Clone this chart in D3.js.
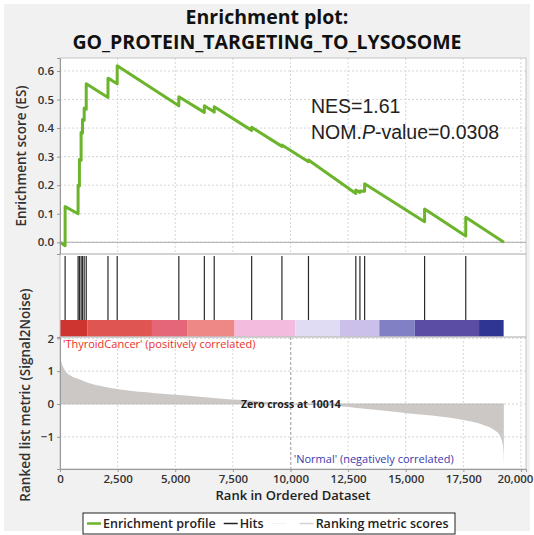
<!DOCTYPE html>
<html>
<head>
<meta charset="UTF-8">
<title>Enrichment plot</title>
<style>
    body { margin: 0; background: #fff; }
    svg { display: block; }
</style>
</head>
<body>
<svg></svg>
<script src="https://d3js.org/d3.v7.min.js"></script>
<script>
    let width = 534, height = 535

    // hit positions (rank in ordered list)
    let hitRanks = [222, 785, 842, 915, 975, 1049, 1138, 2082, 2482, 5156, 6263, 6692,
        8317, 9630, 10781, 12836, 13014, 13218, 15820, 17606]

    // running enrichment score (rank, ES)
    let esRanks = [0, 222, 222, 785, 785, 842, 842, 915, 915, 975, 975, 1049, 1049, 1138, 1138,
        2082, 2082, 2482, 2482, 5156, 5156, 6263, 6263, 6692, 6692, 8317, 8317, 9630, 9630,
        10781, 10781, 12836, 12836, 13014, 13014, 13218, 13218, 15820, 15820, 17606, 17606, 19260]
    let esScores = [0, -0.012, 0.125, 0.100, 0.200, 0.197, 0.290, 0.287, 0.385, 0.382, 0.430, 0.427, 0.470, 0.466, 0.555,
        0.507, 0.575, 0.555, 0.618, 0.478, 0.510, 0.455, 0.478, 0.456, 0.475, 0.392, 0.403, 0.336, 0.341,
        0.282, 0.288, 0.171, 0.183, 0.175, 0.180, 0.179, 0.205, 0.072, 0.117, 0.022, 0.088, 0.0]

    // ranked list metric (Signal2Noise)
    let metricRanks = [0, 30, 90, 234, 451, 885, 1245, 1969, 2693, 4137, 5568, 7030, 7897, 9000, 10014,
        11000, 12160, 12884, 14000, 15052, 16496, 17507, 18374, 18808, 19098, 19215, 19245, 19258]
    let metricValues = [1.45, 1.35, 1.21, 1.0, 0.87, 0.74, 0.64, 0.52, 0.43, 0.33, 0.25, 0.16, 0.12, 0.06, 0,
        -0.04, -0.07, -0.12, -0.2, -0.28, -0.38, -0.49, -0.64, -0.78, -0.98, -1.25, -1.5, -1.85]

    // colour bar bins
    let binStarts = [0, 1183, 3990, 5540, 7577, 10208, 12142, 13855, 15391, 18183]
    let binEnds = [1183, 3990, 5540, 7577, 10208, 12142, 13855, 15391, 18183, 19250]
    let binColors = ["#cf3530", "#df5552", "#e56678", "#ee8887", "#f3bcde", "#dfdcf3",
        "#cbc0ea", "#8180c5", "#5b4ca4", "#2f3592"]

    let xTicks = [0, 2500, 5000, 7500, 10000, 12500, 15000, 17500, 20000]
    let esTicks = [0, 0.1, 0.2, 0.3, 0.4, 0.5, 0.6]
    let metricTicks = [2, 1, 0, -1]

    let zeroCross = 10014
    let titleLines = ["Enrichment plot:", "GO_PROTEIN_TARGETING_TO_LYSOSOME"]

    let left = 60, right = 526
    let topY0 = 58, topY1 = 254, hitY1 = 320, barY1 = 337, botY1 = 469

    let svg = d3.select("svg")
        .attr("width", width)
        .attr("height", height)
        .style("font-family", "'Open Sans', sans-serif")

    svg.append("rect")
        .attr("x", 4).attr("y", 4)
        .attr("width", width - 8).attr("height", height - 8)
        .attr("fill", "#f1f1f1")

    let x = d3.scaleLinear().domain([0, 20220]).range([left, right])
    let yES = d3.scaleLinear().domain([-0.041, 0.6455]).range([topY1, topY0])
    let yM = d3.scaleLinear().domain([-1.98, 2.04]).range([botY1, barY1])

    // panel backgrounds
    svg.append("rect").attr("x", left).attr("y", topY0).attr("width", right - left)
        .attr("height", botY1 - topY0).attr("fill", "#fff")

    // title
    svg.append("g").selectAll("text")
        .data(titleLines)
        .enter().append("text")
        .attr("x", width / 2)
        .attr("y", (d, i) => 24 + i * 25)
        .attr("text-anchor", "middle")
        .attr("font-size", 19.5)
        .attr("font-weight", "bold")
        .attr("fill", "#111")
        .text(d => d)

    // grid
    let grid = svg.append("g")
        .attr("stroke", "#d6d6d6")
        .attr("stroke-dasharray", "2,2")
        .attr("stroke-width", 1)
    grid.selectAll("line.vt")
        .data(xTicks.filter(d => d > 0))
        .enter().append("line")
        .attr("x1", d => x(d)).attr("x2", d => x(d))
        .attr("y1", topY0).attr("y2", topY1)
    grid.selectAll("line.vb")
        .data(xTicks.filter(d => d > 0 && d != 10000))
        .enter().append("line")
        .attr("class", "vb")
        .attr("x1", d => x(d)).attr("x2", d => x(d))
        .attr("y1", barY1).attr("y2", botY1)
    grid.selectAll("line.ht")
        .data(esTicks)
        .enter().append("line")
        .attr("class", "ht")
        .attr("x1", left).attr("x2", right)
        .attr("y1", d => yES(d)).attr("y2", d => yES(d))
    grid.selectAll("line.hb")
        .data(metricTicks)
        .enter().append("line")
        .attr("class", "hb")
        .attr("x1", left).attr("x2", right)
        .attr("y1", d => yM(d)).attr("y2", d => yM(d))

    // zero line in ES panel
    svg.append("line")
        .attr("x1", left).attr("x2", right)
        .attr("y1", yES(0)).attr("y2", yES(0))
        .attr("stroke", "#aaa").attr("stroke-width", 1)

    // ranking metric area
    let metric = metricRanks.map((r, i) => ({ r: r, v: metricValues[i] }))
    svg.append("path")
        .datum(metric)
        .attr("fill", "#ccc8c5")
        .attr("d", d3.area()
            .x(d => x(d.r))
            .y0(yM(0))
            .y1(d => yM(d.v))
            .curve(d3.curveMonotoneX))

    svg.append("line")
        .attr("x1", left).attr("x2", x(19258))
        .attr("y1", yM(0)).attr("y2", yM(0))
        .attr("stroke", "#bbb").attr("stroke-width", 0.8)

    // zero cross marker
    svg.append("line")
        .attr("x1", x(zeroCross)).attr("x2", x(zeroCross))
        .attr("y1", barY1).attr("y2", botY1)
        .attr("stroke", "#999")
        .attr("stroke-dasharray", "3,2")

    svg.append("text")
        .attr("x", x(zeroCross))
        .attr("y", yM(0) + 4)
        .attr("text-anchor", "middle")
        .attr("font-size", 10.5)
        .attr("font-weight", "bold")
        .attr("fill", "#222")
        .text("Zero cross at " + zeroCross)

    svg.append("text")
        .attr("x", left + 3).attr("y", barY1 + 11)
        .attr("font-size", 11)
        .attr("fill", "#ec2f2a")
        .text("'ThyroidCancer' (positively correlated)")

    svg.append("text")
        .attr("x", x(zeroCross) + 3).attr("y", botY1 - 6)
        .attr("font-size", 11)
        .attr("fill", "#3a3aae")
        .text("'Normal' (negatively correlated)")

    // colour bar
    svg.append("g").selectAll("rect")
        .data(binColors)
        .enter().append("rect")
        .attr("x", (d, i) => x(binStarts[i]))
        .attr("width", (d, i) => x(binEnds[i]) - x(binStarts[i]))
        .attr("y", hitY1)
        .attr("height", barY1 - hitY1)
        .attr("fill", d => d)

    // hits
    svg.append("g").selectAll("line")
        .data(hitRanks)
        .enter().append("line")
        .attr("x1", d => x(d)).attr("x2", d => x(d))
        .attr("y1", topY1 + 2).attr("y2", hitY1)
        .attr("stroke", "#2a2a2a")
        .attr("stroke-width", 1.2)

    // enrichment profile
    let es = esRanks.map((r, i) => ({ r: r, v: esScores[i] }))
    svg.append("path")
        .datum(es)
        .attr("fill", "none")
        .attr("stroke", "#6bb42b")
        .attr("stroke-width", 3)
        .attr("stroke-linejoin", "round")
        .attr("d", d3.line().x(d => x(d.r)).y(d => yES(d.v)))

    // panel borders
    let borders = [[topY0, topY1], [topY1, barY1], [barY1, botY1]]
    svg.append("g").selectAll("rect")
        .data(borders)
        .enter().append("rect")
        .attr("x", left).attr("y", d => d[0])
        .attr("width", right - left).attr("height", d => d[1] - d[0])
        .attr("fill", "none")
        .attr("stroke", "#c4c4c4")

    // axes
    let axisES = svg.append("g")
        .attr("transform", "translate(" + left + ",0)")
        .call(d3.axisLeft(yES).tickValues(esTicks).tickFormat(d3.format(".1f")).tickSize(3))
    let axisM = svg.append("g")
        .attr("transform", "translate(" + left + ",0)")
        .call(d3.axisLeft(yM).tickValues(metricTicks).tickFormat(d3.format("d")).tickSize(3))
    let axisX = svg.append("g")
        .attr("transform", "translate(0," + botY1 + ")")
        .call(d3.axisBottom(x).tickValues(xTicks).tickFormat(d3.format(",")).tickSize(3))
    for (let a of [axisES, axisM, axisX]) {
        a.select(".domain").attr("stroke", "#999")
        a.selectAll(".tick line").attr("stroke", "#999")
        a.selectAll("text")
            .attr("font-family", "'Open Sans', sans-serif")
            .attr("font-size", 11.5)
            .attr("font-weight", 600)
            .attr("fill", "#333")
    }
    // keep the last label inside the page
    axisX.selectAll(".tick text")
        .filter(d => d == 20000)
        .attr("text-anchor", "end")
        .attr("dx", 12)

    svg.append("text")
        .attr("transform", "translate(26,156) rotate(-90)")
        .attr("text-anchor", "middle")
        .attr("font-size", 13.5)
        .attr("font-weight", 600)
        .attr("fill", "#333")
        .text("Enrichment score (ES)")
    svg.append("text")
        .attr("transform", "translate(30,395) rotate(-90)")
        .attr("text-anchor", "middle")
        .attr("font-size", 13.5)
        .attr("font-weight", 600)
        .attr("fill", "#333")
        .text("Ranked list metric (Signal2Noise)")
    svg.append("text")
        .attr("x", (left + right) / 2).attr("y", 500)
        .attr("text-anchor", "middle")
        .attr("font-size", 13)
        .attr("font-weight", 600)
        .attr("fill", "#222")
        .text("Rank in Ordered Dataset")

    // NES annotation
    let nes = svg.append("g")
        .style("font-family", "'Liberation Sans', Arial, sans-serif")
        .attr("font-size", 19.5)
        .attr("fill", "#222")
    nes.append("text").attr("x", 311).attr("y", 113).text("NES=1.61")
    let pv = nes.append("text").attr("x", 311).attr("y", 139)
    pv.append("tspan").text("NOM.")
    pv.append("tspan").attr("font-style", "italic").text("P")
    pv.append("tspan").text("-value=0.0308")

    // legend
    let legItems = [
        { label: "Enrichment profile", color: "#6bb42b", w: 2.5 },
        { label: "Hits", color: "#222", w: 1.5 },
        { label: "", color: "#f2f2f2", w: 1 },
        { label: "Ranking metric scores", color: "#d4d4d4", w: 1.5 }
    ]
    let leg = svg.append("g")
    leg.append("rect")
        .attr("x", 83).attr("y", 513)
        .attr("width", 372).attr("height", 21)
        .attr("fill", "#fff")
        .attr("stroke", "#222")
    let lx = 87
    legItems.forEach(d => {
        leg.append("line")
            .attr("x1", lx).attr("x2", lx + 14)
            .attr("y1", 523.5).attr("y2", 523.5)
            .attr("stroke", d.color).attr("stroke-width", d.w)
        let t = leg.append("text")
            .attr("x", lx + 16).attr("y", 528)
            .attr("font-size", 12.5)
            .attr("font-weight", 600)
            .attr("fill", "#222")
            .text(d.label)
        lx += 16 + t.node().getComputedTextLength() + (d.label ? 8 : 12)
    })
</script>
</body>
</html>
